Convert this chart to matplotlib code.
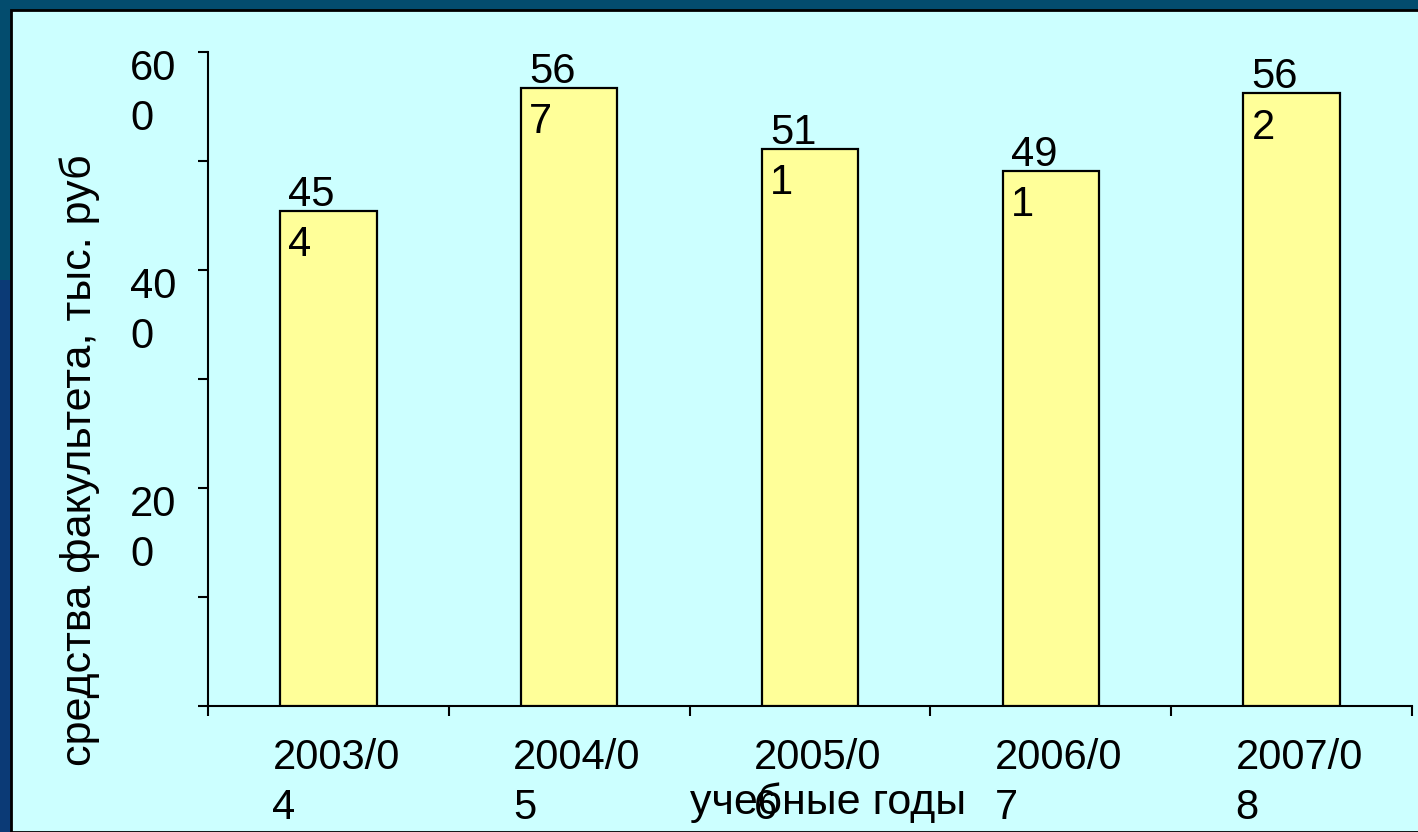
import matplotlib
matplotlib.use("Agg")
import matplotlib.pyplot as plt
from matplotlib.patches import Rectangle
from matplotlib.transforms import blended_transform_factory

plt.rcParams['font.family'] = ['Liberation Sans', 'DejaVu Sans']

years = ['2003/0\n4', '2004/0\n5', '2005/0\n6', '2006/0\n7', '2007/0\n8']
values = [454, 567, 511, 491, 562]
ytick_vals = [200, 400, 600]
ytick_text = ['20\n0', '40\n0', '60\n0']

W, H = 1418, 832
fig = plt.figure(figsize=(W / 100, H / 100), dpi=100)
fig.patch.set_facecolor('#034c6e')

# darker blue strip on the lower left, then the light panel
fig.patches.append(Rectangle((0, 0), 12 / W, 1 - 280 / H, transform=fig.transFigure,
                             facecolor='#0b3a76', edgecolor='none', zorder=-2))
fig.patches.append(Rectangle((11 / W, 0), 1, 1 - 10 / H, transform=fig.transFigure,
                             facecolor='#ccffff', edgecolor='black', linewidth=2, zorder=-1))

ax = fig.add_axes([208 / W, 1 - 706 / H, (1412 - 208) / W, (706 - 52) / H])
ax.set_facecolor('none')
ax.set_zorder(2)

x = range(len(values))
bw = 0.4
ax.bar(x, values, width=bw, color='#ffff99', edgecolor='black', linewidth=1.6, zorder=3)

fs = 30
ls = 1.33
for i, v in enumerate(values):
    s = str(v)
    ax.annotate(s[:2] + '\n' + s[2:], xy=(i - bw / 2, v), xytext=(8, 36),
                textcoords='offset pixels', ha='left', va='top',
                fontsize=fs, linespacing=ls, zorder=4)

ax.set_xlim(-0.5, 4.5)
ax.set_ylim(0, 600)
for sp in ['top', 'right']:
    ax.spines[sp].set_visible(False)
ax.spines['left'].set_linewidth(1.5)
ax.spines['bottom'].set_linewidth(1.5)

ax.set_yticks(range(0, 601, 100))
ax.set_yticklabels([])
ax.tick_params(axis='y', direction='out', length=7, width=1.5)

trans = blended_transform_factory(ax.transAxes, ax.transData)
for yv, t in zip(ytick_vals, ytick_text):
    ax.text(-78 / 1204, yv + 3, t, transform=trans, ha='left', va='top',
            fontsize=fs, linespacing=ls, clip_on=False)

# category labels (wrapped like the original), boundaries get the tick marks
ax.set_xticks([k - 0.5 for k in range(6)])
ax.set_xticklabels([])
ax.tick_params(axis='x', direction='out', length=7, width=1.5)
xtrans = blended_transform_factory(ax.transData, ax.transAxes)
for i, lab in enumerate(years):
    ax.annotate(lab, xy=(i, 0), xycoords=xtrans, xytext=(-56, -32),
                textcoords='offset pixels', ha='left', va='top',
                fontsize=fs, linespacing=ls, annotation_clip=False)

fig.text(80 / W, 1 - 460 / H, 'средства факультета, тыс. руб', rotation=90,
         ha='center', va='center', fontsize=31)
fig.text(828 / W, 1 - 803 / H, 'учебные годы', ha='center', va='center', fontsize=31)

fig.savefig('out.png', dpi=100, facecolor=fig.get_facecolor())
